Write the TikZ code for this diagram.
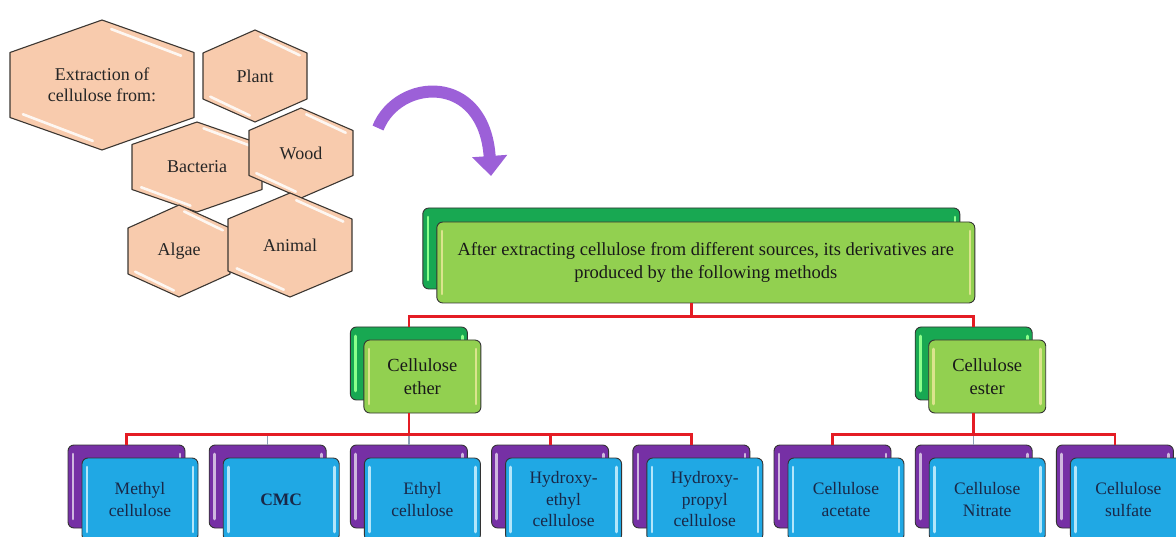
\documentclass[tikz,border=0pt]{standalone}
\usepackage{fontspec}
\setmainfont{Liberation Serif}
\usetikzlibrary{arrows.meta,positioning,calc}

\definecolor{peach}{RGB}{248,203,173}
\definecolor{hexline}{RGB}{60,55,50}
\definecolor{darkgreen}{RGB}{24,168,82}
\definecolor{lightgreen}{RGB}{146,208,80}
\definecolor{darkpurple}{RGB}{118,48,165}
\definecolor{skyblue}{RGB}{32,168,228}
\definecolor{navytext}{RGB}{25,40,72}
\definecolor{linkred}{RGB}{228,28,36}
\definecolor{linkgrey}{RGB}{140,160,182}
\definecolor{arrowpurple}{RGB}{156,96,216}

\begin{document}
\begin{tikzpicture}[
    x=1pt, y=-1pt,
    >=Stealth,
    hexa/.style={draw=hexline, line width=1.1pt, fill=peach, line join=round},
    hexshine/.style={white, line width=2.6pt, opacity=0.85, line cap=round},
    hexlabel/.style={align=center, font=\fontsize{18}{21}\selectfont, text=black!85},
    shine/.style={path picture={
        \draw[#1, line width=2.6pt, line cap=round]
            ([xshift=5pt,yshift=-9pt]path picture bounding box.north west) -- ([xshift=5pt,yshift=9pt]path picture bounding box.south west);
        \draw[#1, line width=2.6pt, line cap=round]
            ([xshift=-5pt,yshift=-9pt]path picture bounding box.north east) -- ([xshift=-5pt,yshift=9pt]path picture bounding box.south east);
    }},
    box/.style={draw=black!80, line width=0.9pt, rounded corners=6pt, inner sep=0pt, align=center},
    greenback/.style={box, fill=darkgreen, shine=green!45!white},
    greenfront/.style={box, fill=lightgreen, shine=yellow!40!lightgreen!60!white, text=black!90},
    purpleback/.style={box, fill=darkpurple, shine=darkpurple!35!white, minimum width=117pt, minimum height=83pt},
    bluefront/.style={box, fill=skyblue, shine=cyan!30!white, text=navytext, minimum width=116pt, minimum height=83pt,
        font=\fontsize{17.5}{21.5}\selectfont},
    midbox/.style={minimum width=117pt, minimum height=73pt, font=\fontsize{18.5}{22.5}\selectfont},
    redlink/.style={draw=linkred, line width=2.8pt},
    greylink/.style={draw=linkgrey, line width=1.2pt},
    bendarrow/.style={arrowpurple, line width=12pt, -{Triangle[length=20pt, width=34pt]}}
]
    \clip (0,0) rectangle (1176,537);

    % Sources of cellulose
    \foreach \cx/\cy/\a/\b/\name/\txt in {
        102/85/92/65/extract/{Extraction of\\cellulose from:},
        255/76/52/46/plant/Plant,
        197/167/65/45/bacteria/Bacteria,
        301/153/52/45/wood/Wood,
        179/251/51/46/algae/Algae,
        290/245/62/52/animal/Animal}
    {
        \draw[hexa] ({\cx},{\cy-\b}) -- ({\cx+\a},{\cy-\b/2}) -- ({\cx+\a},{\cy+\b/2})
            -- ({\cx},{\cy+\b}) -- ({\cx-\a},{\cy+\b/2}) -- ({\cx-\a},{\cy-\b/2}) -- cycle;
        \draw[hexshine] ({\cx+0.1*\a},{\cy-0.86*\b}) -- ({\cx+0.86*\a},{\cy-0.45*\b});
        \draw[hexshine] ({\cx-0.86*\a},{\cy+0.45*\b}) -- ({\cx-0.1*\a},{\cy+0.86*\b});
        \node[hexlabel] (\name) at (\cx,\cy) {\txt};
    }

    % Curved arrow
    \coordinate (arcstart) at (378,128);
    \coordinate (arcend) at (491,176);
    \draw[bendarrow] (arcstart) .. controls (398,78) and (484,72) .. (arcend);

    % Header
    \node[greenback, minimum width=537pt, minimum height=81pt] (headB) at (691.3,248.5) {};
    \node[greenfront, minimum width=538pt, minimum height=81pt, font=\fontsize{18.5}{23}\selectfont]
        (head) at ($(headB)+(14.5,14)$) {After extracting cellulose from different sources, its derivatives are\\produced by the following methods};

    % Ether and ester
    \node[greenback, midbox] (etherB) at (408.9,363.5) {};
    \node[greenfront, midbox] (ether) at ($(etherB)+(13.5,13)$) {Cellulose\\ether};
    \node[greenback, midbox] (esterB) at (973.7,363.5) {};
    \node[greenfront, midbox] (ester) at ($(esterB)+(13.5,13)$) {Cellulose\\ester};

    % Derivatives
    \node[purpleback] (methylB) at (126.5,486.5) {};
    \node[bluefront] (methyl) at ($(methylB)+(13.5,13)$) {Methyl\\cellulose};
    \node[purpleback] (cmcB) at (267.7,486.5) {};
    \node[bluefront] (cmc) at ($(cmcB)+(13.5,13)$) {\textbf{CMC}};
    \node[purpleback] (ethylB) at (408.9,486.5) {};
    \node[bluefront] (ethyl) at ($(ethylB)+(13.5,13)$) {Ethyl\\cellulose};
    \node[purpleback] (hecB) at (550.1,486.5) {};
    \node[bluefront] (hec) at ($(hecB)+(13.5,13)$) {Hydroxy-\\ethyl\\cellulose};
    \node[purpleback] (hpcB) at (691.3,486.5) {};
    \node[bluefront] (hpc) at ($(hpcB)+(13.5,13)$) {Hydroxy-\\propyl\\cellulose};
    \node[purpleback] (acetateB) at (832.5,486.5) {};
    \node[bluefront] (acetate) at ($(acetateB)+(13.5,13)$) {Cellulose\\acetate};
    \node[purpleback] (nitrateB) at (973.7,486.5) {};
    \node[bluefront] (nitrate) at ($(nitrateB)+(13.5,13)$) {Cellulose\\Nitrate};
    \node[purpleback] (sulfateB) at (1114.9,486.5) {};
    \node[bluefront] (sulfate) at ($(sulfateB)+(13.5,13)$) {Cellulose\\sulfate};

    % Grey links
    \draw[greylink] (etherB |- ether.south) -- ++(0,21) -| (cmcB.north);
    \draw[greylink] (etherB |- ether.south) -- (ethylB.north);
    \draw[greylink] (esterB |- ester.south) -- (nitrateB.north);

    % Red links
    \draw[redlink] (headB |- head.south) -- ++(0,13) -| (etherB.north);
    \draw[redlink] (headB |- head.south) -- ++(0,13) -| (esterB.north);
    \draw[redlink] (etherB |- ether.south) -- ++(0,21) -| (methylB.north);
    \draw[redlink] (etherB |- ether.south) -- ++(0,21) -| (hecB.north);
    \draw[redlink] (etherB |- ether.south) -- ++(0,21) -| (hpcB.north);
    \draw[redlink] (esterB |- ester.south) -- ++(0,21) -| (acetateB.north);
    \draw[redlink] (esterB |- ester.south) -- ++(0,21) -| (sulfateB.north);

\end{tikzpicture}
\end{document}
